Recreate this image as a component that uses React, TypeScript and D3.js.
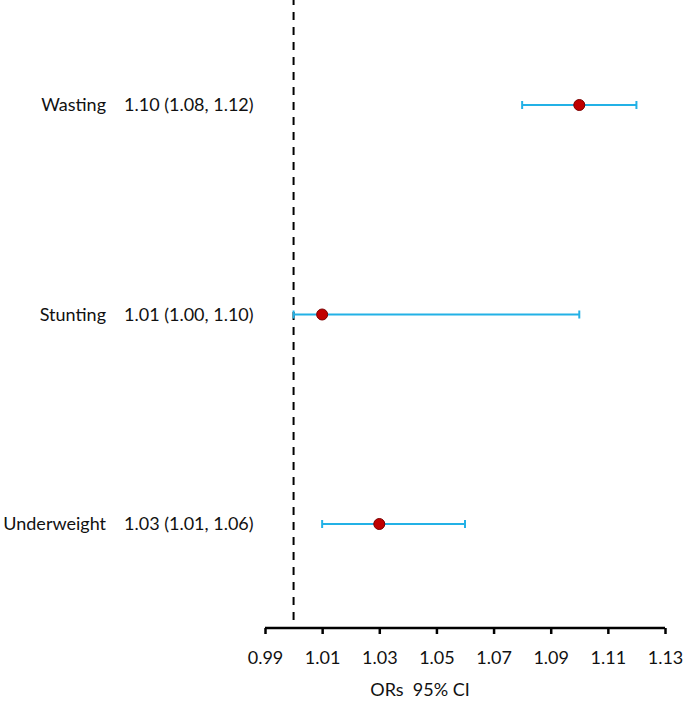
import * as d3 from "d3";
import * as React from "react";

const categories = ["Wasting", "Stunting", "Underweight"];
const estimates = [1.10, 1.01, 1.03];
const lower = [1.08, 1.00, 1.01];
const upper = [1.12, 1.10, 1.06];
const ciLabels = ["1.10 (1.08, 1.12)", "1.01 (1.00, 1.10)", "1.03 (1.01, 1.06)"];
const tickValues = [0.99, 1.01, 1.03, 1.05, 1.07, 1.09, 1.11, 1.13];
const refValue = 1.0;

const FONT = "Lato, 'Open Sans', sans-serif";
const FS = 18;

export default function App(): JSX.Element {
    const axisRef = React.useRef<SVGGElement>(null);

    const width = 685;
    const height = 706;
    const axisY = 628;

    const x = d3.scaleLinear().domain([0.99, 1.13]).range([265, 665]);
    const y = d3.scalePoint<string>().domain(categories).range([105, 524]);

    React.useEffect(() => {
        const axis = d3.axisBottom(x)
            .tickValues(tickValues)
            .tickFormat(d3.format(".2f"))
            .tickSizeOuter(0)
            .tickSize(6)
            .tickPadding(17);
        const g = d3.select(axisRef.current);
        g.call(axis);
        g.select(".domain").attr("stroke-width", 2.5).attr("d", `M${x(0.99)},0H${x(1.13)}`);
        g.selectAll(".tick line").attr("stroke-width", 2.5);
        g.selectAll(".tick text")
            .attr("font-family", FONT)
            .attr("font-size", FS)
            .attr("fill", "#111");
    }, [x]);

    return (
        <svg width={width} height={height} style={{ position: "absolute", left: 0, top: 0 }}>
            <rect width={width} height={height} fill="white" />
            <line
                x1={x(refValue)} x2={x(refValue)} y1={0} y2={axisY}
                stroke="black" strokeWidth={2} strokeDasharray="8,7" strokeDashoffset={3}
            />
            {categories.map((c, i) => {
                const cy = y(c) as number;
                return (
                    <g key={c}>
                        <text x={106} y={cy} dy="0.35em" textAnchor="end"
                            fontFamily={FONT} fontSize={FS} fill="#111">{c}</text>
                        <text x={124} y={cy} dy="0.35em" textAnchor="start"
                            fontFamily={FONT} fontSize={FS} fill="#111">{ciLabels[i]}</text>
                        <line x1={x(lower[i])} x2={x(upper[i])} y1={cy} y2={cy}
                            stroke="#23b1e6" strokeWidth={2} />
                        <line x1={x(lower[i])} x2={x(lower[i])} y1={cy - 4} y2={cy + 4}
                            stroke="#23b1e6" strokeWidth={2} />
                        <line x1={x(upper[i])} x2={x(upper[i])} y1={cy - 4} y2={cy + 4}
                            stroke="#23b1e6" strokeWidth={2} />
                        <circle cx={x(estimates[i])} cy={cy} r={5.5}
                            fill="#c00000" stroke="#7a0000" strokeWidth={1} />
                    </g>
                );
            })}
            <g ref={axisRef} transform={`translate(0,${axisY})`} />
            <text x={420} y={690} dy="0.35em" textAnchor="middle" style={{ whiteSpace: "pre" }}
                fontFamily={FONT} fontSize={FS} fill="#111">ORs  95% CI</text>
        </svg>
    );
}
